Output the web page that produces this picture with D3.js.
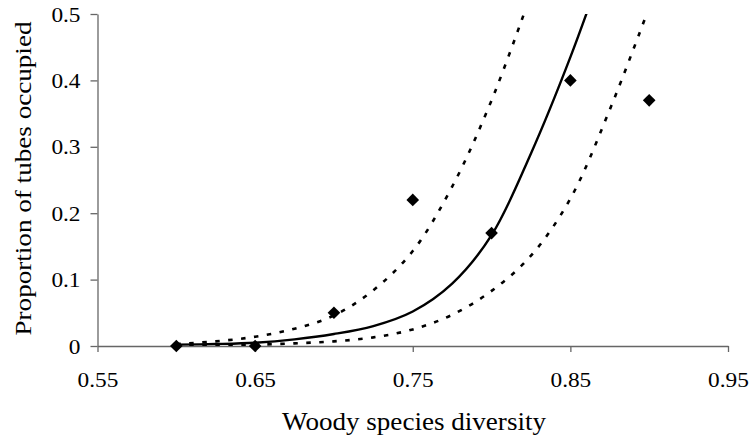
<!DOCTYPE html>
<html>
<head>
<meta charset="utf-8">
<script src="https://cdn.jsdelivr.net/npm/d3@7/dist/d3.min.js"></script>
<style>
  html, body { margin: 0; padding: 0; background: #fff; }
  svg { display: block; }
  text { font-family: "Liberation Serif", "Times New Roman", serif; fill: #000; }
</style>
</head>
<body>
<svg id="chart" width="750" height="441"></svg>
<script>
// Observed occupancy per woody species diversity class
const diversity = [0.60, 0.65, 0.70, 0.75, 0.80, 0.85, 0.90];
const occupied  = [0.00, 0.00, 0.05, 0.22, 0.17, 0.40, 0.37];

// Fitted curve with lower and upper confidence bands
const curveX     = [0.600, 0.625, 0.650, 0.675, 0.700, 0.725, 0.750, 0.775, 0.800, 0.825, 0.850, 0.875, 0.900];
const fitted     = [0.002, 0.003, 0.005, 0.010, 0.018, 0.030, 0.052, 0.094, 0.167, 0.290, 0.435, 0.600, null];
const upperBand  = [0.003, 0.007, 0.014, 0.026, 0.046, 0.084, 0.143, 0.240, 0.370, 0.530, null, null, null];
const lowerBand  = [0.0005, 0.001, 0.002, 0.004, 0.007, 0.013, 0.025, 0.047, 0.083, 0.136, 0.222, 0.356, 0.510];

// Axis ticks
const xTicks = [0.55, 0.65, 0.75, 0.85, 0.95];
const yTicks = [0, 0.1, 0.2, 0.3, 0.4, 0.5];

const svg = d3.select("#chart");
const plotLeft = 97.5, plotRight = 728, plotTop = 14, plotBottom = 346;

const x = d3.scaleLinear().domain([0.55, 0.95]).range([plotLeft, plotRight]);
const y = d3.scaleLinear().domain([0, 0.5]).range([plotBottom, plotTop]);

svg.append("defs").append("clipPath").attr("id", "plot")
  .append("rect").attr("x", plotLeft).attr("y", plotTop)
  .attr("width", 760 - plotLeft).attr("height", plotBottom - plotTop);

// Axes
const axisColor = "#666";
const xAxis = svg.append("g").attr("transform", `translate(0,${plotBottom})`)
  .call(d3.axisBottom(x).tickValues(xTicks).tickSize(6).tickSizeOuter(0)
        .tickFormat(d3.format(".2f")));
const yAxis = svg.append("g").attr("transform", `translate(${plotLeft},0)`)
  .call(d3.axisLeft(y).tickValues(yTicks).tickSize(7).tickSizeOuter(0)
        .tickFormat(d => d === 0 ? "0" : d3.format(".1f")(d)));

[xAxis, yAxis].forEach(g => {
  g.select(".domain").attr("stroke", axisColor).attr("stroke-width", 1.3);
  g.selectAll(".tick line").attr("stroke", axisColor).attr("stroke-width", 1.3);
  g.selectAll(".tick text").attr("font-size", 21)
    .attr("font-family", "'Liberation Serif', serif").attr("fill", "#000");
});
xAxis.selectAll(".tick text").attr("dy", null).attr("y", 41);
yAxis.selectAll(".tick text").attr("x", -17).attr("dy", "0.34em");

// Slightly widened tick labels
svg.selectAll(".tick text").each(function () {
  const w = this.getComputedTextLength();
  d3.select(this).attr("textLength", w * 1.11).attr("lengthAdjust", "spacingAndGlyphs");
});

// Curves
const line = d3.line()
  .defined(d => d[1] !== null)
  .x(d => x(d[0])).y(d => y(d[1]))
  .curve(d3.curveCatmullRom.alpha(0.5));

const curves = svg.append("g").attr("clip-path", "url(#plot)");

const bands = [upperBand, lowerBand];
bands.forEach(vals => {
  curves.append("path")
    .datum(curveX.map((cx, i) => [cx, vals[i]]))
    .attr("d", line)
    .attr("fill", "none")
    .attr("stroke", "#000")
    .attr("stroke-width", 2.6)
    .attr("stroke-dasharray", "4.5,8.5");
});

curves.append("path")
  .datum(curveX.map((cx, i) => [cx, fitted[i]]))
  .attr("d", line)
  .attr("fill", "none")
  .attr("stroke", "#000")
  .attr("stroke-width", 2.4);

// Observed points as diamonds
const diamond = d3.symbol().type(d3.symbolSquare).size(80);
svg.append("g").selectAll("path")
  .data(diversity.map((d, i) => [d, occupied[i]]))
  .join("path")
  .attr("d", diamond)
  .attr("transform", d => `translate(${x(d[0])},${y(d[1])}) rotate(45)`)
  .attr("fill", "#000");

// Axis titles
svg.append("text")
  .attr("x", 414).attr("y", 430)
  .attr("text-anchor", "middle").attr("font-size", 25)
  .attr("textLength", 264).attr("lengthAdjust", "spacingAndGlyphs")
  .text("Woody species diversity");

svg.append("text")
  .attr("transform", `translate(31,178.5) rotate(-90)`)
  .attr("text-anchor", "middle").attr("font-size", 23)
  .attr("textLength", 314).attr("lengthAdjust", "spacingAndGlyphs")
  .text("Proportion of tubes occupied");
</script>
</body>
</html>
